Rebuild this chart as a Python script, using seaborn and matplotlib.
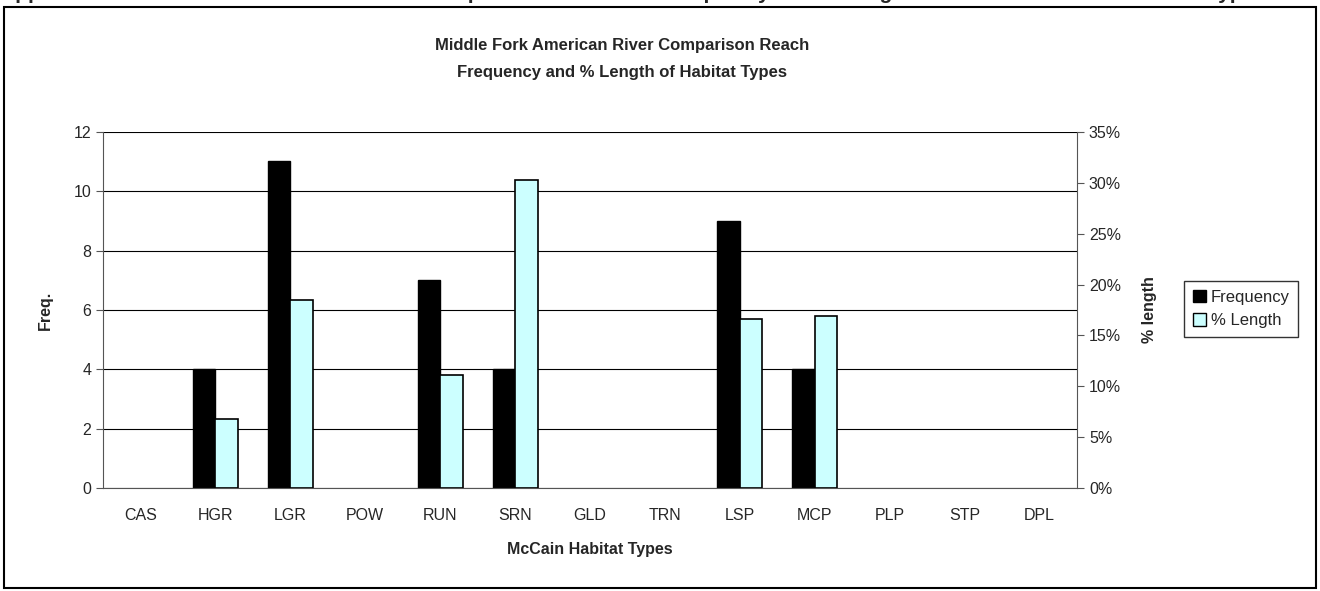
import numpy as np
import pandas as pd
import seaborn as sns
import matplotlib.pyplot as plt
from matplotlib.patches import Patch, Rectangle
from matplotlib.ticker import FuncFormatter

# Habitat data
habitats = ["CAS", "HGR", "LGR", "POW", "RUN", "SRN", "GLD",
            "TRN", "LSP", "MCP", "PLP", "STP", "DPL"]
frequency = [0, 4, 11, 0, 7, 4, 0, 0, 9, 4, 0, 0, 0]
pct_length = [0, 6.8, 18.5, 0, 11.1, 30.3, 0, 0, 16.6, 16.9, 0, 0, 0]
series = ["Frequency", "% Length"]
colors = {"Frequency": "black", "% Length": "#CCFFFF"}

# long tables; the other series is NaN so the dodge keeps both slots
freq_df = pd.DataFrame({"habitat": habitats * 2,
                        "series": ["Frequency"] * 13 + ["% Length"] * 13,
                        "value": frequency + [np.nan] * 13})
pct_df = pd.DataFrame({"habitat": habitats * 2,
                       "series": ["Frequency"] * 13 + ["% Length"] * 13,
                       "value": [np.nan] * 13 + pct_length})

sns.set_style("white")
plt.rcParams["font.family"] = ["Liberation Sans", "DejaVu Sans"]

fig = plt.figure(figsize=(13.2, 5.91), dpi=100)
ax = fig.add_axes([0.078, 0.174, 0.738, 0.603])

sns.barplot(data=freq_df, x="habitat", y="value", hue="series", hue_order=series,
            palette=colors, width=0.6, saturation=1, edgecolor="black",
            linewidth=1, legend=False, ax=ax)
ax.set_ylim(0, 12)
ax.set_yticks(range(0, 13, 2))
ax.set_xlim(-0.5, 12.5)
ax.yaxis.grid(True, color="black", linewidth=0.8)
ax.set_axisbelow(True)

ax2 = ax.twinx()
sns.barplot(data=pct_df, x="habitat", y="value", hue="series", hue_order=series,
            palette=colors, width=0.6, saturation=1, edgecolor="black",
            linewidth=1.2, legend=False, ax=ax2)
ax2.set_ylim(0, 35)
ax2.set_yticks(range(0, 36, 5))
ax2.yaxis.set_major_formatter(FuncFormatter(lambda v, p: f"{v:.0f}%"))
ax2.set_xlim(-0.5, 12.5)

# no outline on empty bars
for a in (ax, ax2):
    for p in a.patches:
        if not p.get_height():
            p.set_linewidth(0)

for a in (ax, ax2):
    a.spines["top"].set_visible(False)
    for side in ("left", "right", "bottom"):
        a.spines[side].set_color("#555555")
ax.spines["right"].set_visible(False)
ax2.spines["left"].set_visible(False)
ax2.spines["bottom"].set_visible(False)

ax.set_xticks(np.arange(-0.5, 13, 1), minor=True)
ax.tick_params(axis="x", which="major", length=0, labelsize=11.5, pad=14)
ax.tick_params(axis="x", which="minor", length=5, direction="out", color="#555555")
ax.tick_params(axis="y", length=5, direction="out", left=True, labelsize=11.5, color="#555555")
ax2.tick_params(axis="y", length=5, direction="out", right=True, labelsize=11.5, color="#555555")

ax.set_xlabel("McCain Habitat Types", fontsize=11.5, fontweight="bold", labelpad=14)
ax.set_ylabel("Freq.", fontsize=11.5, fontweight="bold", labelpad=15)
ax2.set_ylabel("% length", fontsize=11.5, fontweight="bold", labelpad=15)

fig.text(0.471, 0.901, "Middle Fork American River Comparison Reach\nFrequency and % Length of Habitat Types",
         ha="center", va="center", fontsize=12, fontweight="bold", linespacing=2.0)

# page caption cut off by the top edge
caption = ("Appendix B1. Middle Fork American River Comparison Reach Unit Frequency "
           "and % Length of the Individual Habitat Unit Types")
fig.text(0.0, 1.002, caption, ha="left", va="baseline", fontsize=15, fontweight="bold")

handles = [Patch(facecolor=colors[s], edgecolor="black", linewidth=1) for s in series]
leg = fig.legend(handles, series, loc="upper left", bbox_to_anchor=(0.891, 0.538),
                 fontsize=12, frameon=True, fancybox=False, edgecolor="black",
                 handlelength=0.8, handleheight=0.8, handletextpad=0.3,
                 borderpad=0.5, labelspacing=0.5)
leg.get_frame().set_linewidth(1)

fig.patches.append(Rectangle((0.003, 0.005), 0.994, 0.984, transform=fig.transFigure,
                             fill=False, edgecolor="black", linewidth=1.5))

fig.savefig("out.png", dpi=100)
